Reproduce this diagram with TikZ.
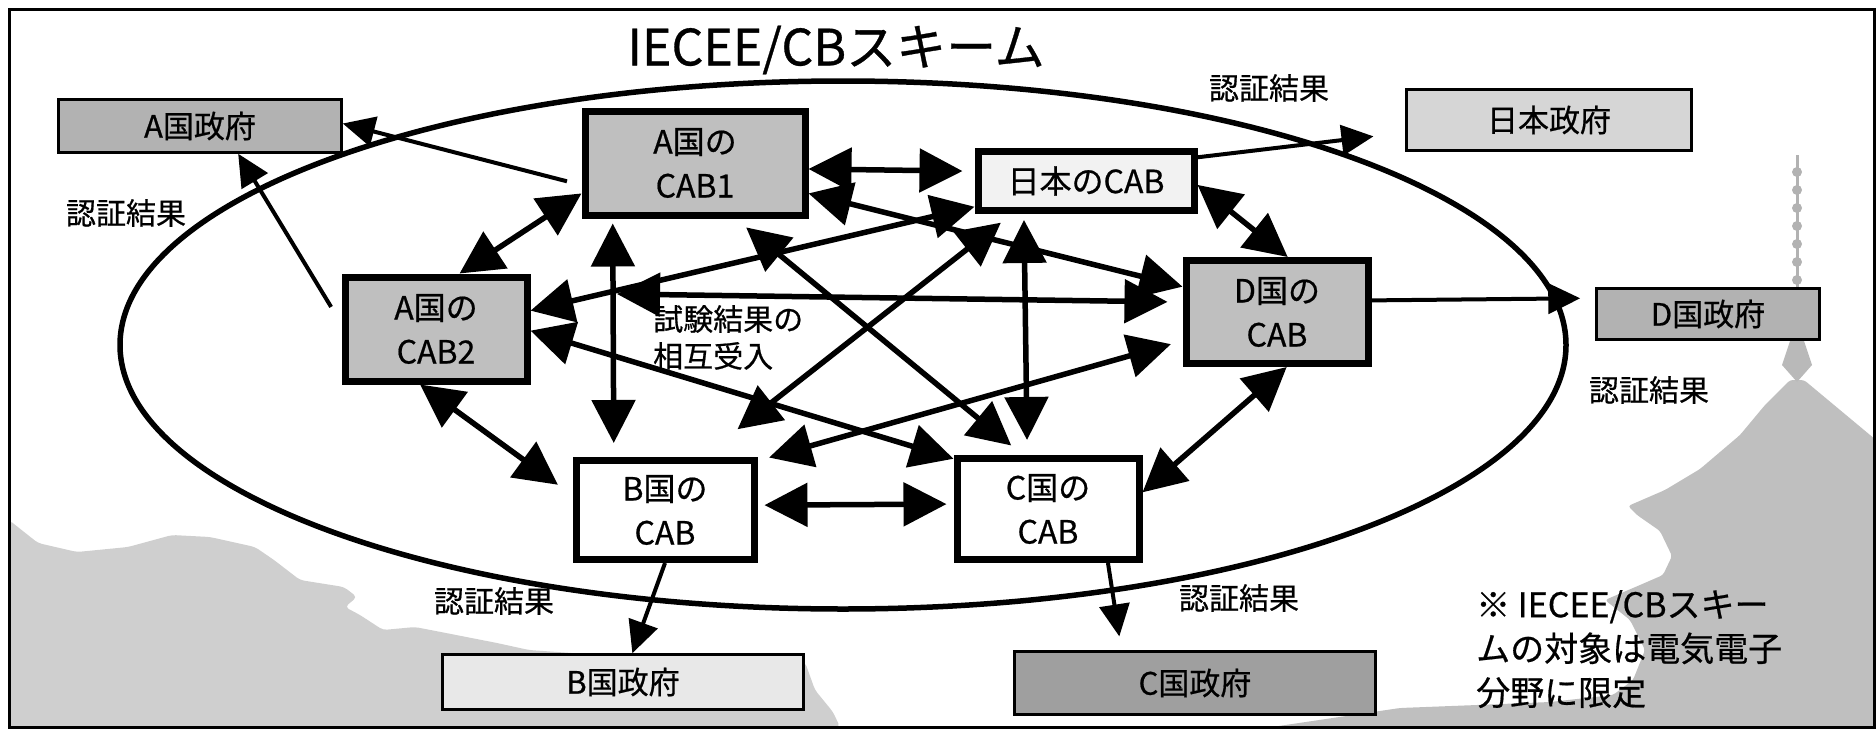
\documentclass[tikz,border=0pt]{standalone}
\usepackage{fontspec}
\setmainfont{Noto Sans CJK JP}[FakeBold=0.6]
\usepackage{tikz}
\usetikzlibrary{arrows.meta}

\begin{document}
\begin{tikzpicture}[x=1pt, y=-1pt,
    cab/.style={draw, line width=7pt, inner sep=0pt, align=center, font=\fontsize{32}{44}\selectfont},
    gov/.style={draw, line width=2.5pt, inner sep=0pt, font=\fontsize{31}{36}\selectfont},
    lbl/.style={inner sep=0pt, font=\fontsize{30}{37}\selectfont},
    mutual/.style={line width=5.5pt, {Triangle[length=43pt,width=43pt]}-{Triangle[length=43pt,width=43pt]}},
    result/.style={line width=4pt, -{Triangle[length=32pt,width=30pt]}}]

  \useasboundingbox (0,0) rectangle (1876,728);

  % Hills and pagoda in the back
  \fill[gray!38, rounded corners=4pt] (9,520) -- (38,543) -- (77,552) -- (128,547) -- (172,535)
    -- (210,537) -- (255,547) -- (274,560) -- (300,580) -- (344,587) -- (357,597) -- (345,607)
    -- (360,615) -- (383,630) -- (415,627) -- (446,633) -- (497,643) -- (529,650) -- (600,655)
    -- (805,662) -- (815,690) -- (833,712) -- (840,727) -- (9,727) -- cycle;
  \fill[gray!50, rounded corners=3pt] (1790,380) -- (1804,380) -- (1876,440) -- (1876,727)
    -- (1272,727) -- (1400,708) -- (1477,705) -- (1550,702) -- (1613,695) -- (1633,680)
    -- (1645,650) -- (1630,620) -- (1605,600) -- (1640,585) -- (1663,575) -- (1672,556)
    -- (1660,531) -- (1637,515) -- (1628,506) -- (1665,490) -- (1700,469) -- (1740,435)
    -- (1765,405) -- cycle;
  \draw[gray!60, line width=3pt] (1797,155) -- (1797,287);
  \foreach \y in {172,190,...,280}
    \fill[gray!60] (1797,\y) circle (5);
  \fill[gray!55] (1790,341) -- (1804,341) -- (1812,365) -- (1797,382) -- (1782,365) -- cycle;

  % Frame
  \draw[line width=3pt] (9,9) rectangle (1874,727);

  % The scheme
  \node[font=\fontsize{50}{56}\selectfont, inner sep=0pt] (title) at (836,50) {IECEE/CBスキーム};
  \draw[line width=5.5pt] (843,345) ellipse [x radius=723, y radius=264];

  % Certification bodies
  \node[cab, fill=gray!50, minimum width=220pt, minimum height=104pt] (a1) at (695,163) {A国の\\CAB1};
  \node[cab, fill=gray!10, minimum width=216pt, minimum height=59pt] (j) at (1086,181) {日本のCAB};
  \node[cab, fill=gray!50, minimum width=182pt, minimum height=104pt] (a2) at (436,329) {A国の\\CAB2};
  \node[cab, fill=gray!50, minimum width=182pt, minimum height=103pt] (d) at (1277,312) {D国の\\CAB};
  \node[cab, fill=white, minimum width=178pt, minimum height=99pt] (b) at (665,510) {B国の\\CAB};
  \node[cab, fill=white, minimum width=182pt, minimum height=101pt] (c) at (1048,509) {C国の\\CAB};

  % Governments
  \node[gov, fill=gray!60, minimum width=283pt, minimum height=53pt] (agov) at (200,126) {A国政府};
  \node[gov, fill=gray!32, minimum width=285pt, minimum height=61pt] (jgov) at (1549,120) {日本政府};
  \node[gov, fill=gray!60, minimum width=223pt, minimum height=51pt] (dgov) at (1708,314) {D国政府};
  \node[gov, fill=gray!18, minimum width=361pt, minimum height=55pt] (bgov) at (623,682) {B国政府};
  \node[gov, fill=gray!75, minimum width=361pt, minimum height=63pt] (cgov) at (1195,683) {C国政府};

  % Labels
  \node[lbl] (resA) at (126,213) {認証結果};
  \node[lbl] (resJ) at (1269,88) {認証結果};
  \node[lbl] (resD) at (1649,390) {認証結果};
  \node[lbl] (resB) at (494,601) {認証結果};
  \node[lbl] (resC) at (1239,598) {認証結果};
  \node[lbl, anchor=north west, align=left] (mutrec) at (653,305) {試験結果の\\相互受入};
  \node[font=\fontsize{34}{44}\selectfont, anchor=north west, align=left, inner sep=0pt]
    (scopenote) at (1476,590) {※ IECEE/CBスキー\\ムの対象は電気電子\\分野に限定};

  % Mutual acceptance of test results
  \coordinate (hub) at (617,294);
  \draw[mutual, shorten >=12pt] (a1.-3.5) -- (j.175);
  \draw[mutual] (a1.195.4) -- (a2.67.2);
  \draw[mutual, shorten <=5pt, shorten >=14pt] (a1.-146.6) -- (b.134.5);
  \draw[mutual] (a1.-15.3) -- (d.165.5);
  \draw[mutual, shorten <=14pt, shorten >=15pt] (a1.-54.2) -- (c.115.7);
  \draw[mutual] (a2.11.7) -- (j.193.3);
  \draw[mutual] (a2.-1.6) -- (c.152.6);
  \draw[mutual, shorten >=18pt] (a2.254) -- (b.171.4);
  \draw[mutual, shorten >=15pt] (hub) -- (d.174);
  \draw[mutual, shorten <=45pt, shorten >=14pt] (b.55.8) -- (j.204.6);
  \draw[mutual, shorten <=12pt, shorten >=12pt] (b.28.2) -- (d.197.3);
  \draw[mutual, shorten <=7pt, shorten >=7pt] (b.3.1) -- (c.177.6);
  \draw[mutual, shorten <=6pt, shorten >=15pt] (j.208.8) -- (c.111.3);
  \draw[mutual] (j.-2.6) -- (d.79.7);
  \draw[mutual] (c.10.8) -- (d.-80.7);

  % Certification results to the governments
  \draw[result, shorten <=15pt] (a1.191.5) -- (agov.1.4);
  \draw[result, shorten <=20pt] (a2.177) -- (agov.-36.7);
  \draw[result, shorten >=32pt] (j.12.3) -- (jgov.185.3);
  \draw[result, shorten >=15pt] (d.7.8) -- (dgov.172.4);
  \draw[result] (b.-90) -- (bgov.72.8);
  \draw[result, shorten >=14pt] (c.-42.5) -- (cgov.156.6);
\end{tikzpicture}
\end{document}
